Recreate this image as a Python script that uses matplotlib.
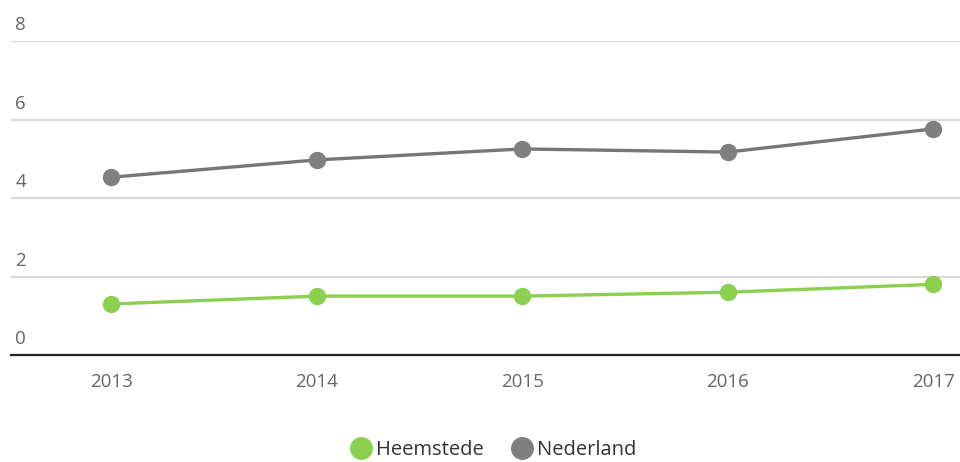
import matplotlib.pyplot as plt
from matplotlib.lines import Line2D
from matplotlib.transforms import ScaledTranslation

# data
years = [2013, 2014, 2015, 2016, 2017]
heemstede = [1.3, 1.5, 1.5, 1.6, 1.8]
nederland = [4.53, 4.97, 5.25, 5.17, 5.76]
y_ticks = [0, 2, 4, 6, 8]

green = '#8cd04f'
grey = '#7f7f7f'

plt.rcParams['font.family'] = ['Open Sans', 'DejaVu Sans']

fig = plt.figure(figsize=(9.6, 4.62), dpi=100)
ax = fig.add_axes([11 / 960, 1 - 355 / 462, 1 - 11 / 960, (355 - 41) / 462])

ax.plot(years, nederland, color='#767676', lw=2.4, marker='o', ms=11.5,
        mfc=grey, mec=grey, zorder=3, clip_on=False)
ax.plot(years, heemstede, color=green, lw=2.4, marker='o', ms=11.5,
        mfc=green, mec=green, zorder=3, clip_on=False)

ax.set_xlim(2012.513, 2017.131)
ax.set_ylim(0, 8)
ax.set_xticks(years)
ax.set_xticklabels([str(y) for y in years])
ax.set_yticks(y_ticks)
ax.set_yticklabels([str(t) for t in y_ticks])

ax.grid(axis='y', color='#d9d9d9', lw=1.6)
ax.set_axisbelow(True)
for side in ['top', 'right', 'left']:
    ax.spines[side].set_visible(False)
ax.spines['bottom'].set_color('#222222')
ax.spines['bottom'].set_linewidth(1.6)
ax.spines['bottom'].set_zorder(4)

ax.tick_params(axis='x', length=0, pad=13, labelsize=13.5, labelcolor='#666666')
ax.tick_params(axis='y', length=0, pad=-3, labelsize=13.5, labelcolor='#666666')
offset = ScaledTranslation(0, 5 / 72, fig.dpi_scale_trans)
for lab in ax.get_yticklabels():
    lab.set_horizontalalignment('left')
    lab.set_verticalalignment('bottom')
    lab.set_transform(lab.get_transform() + offset)

handles = [
    Line2D([], [], ls='none', marker='o', ms=15.5, mfc=green, mec=green),
    Line2D([], [], ls='none', marker='o', ms=15.5, mfc=grey, mec=grey),
]
fig.legend(handles, ['Heemstede', 'Nederland'], loc='center',
           bbox_to_anchor=(493 / 960, 1 - 450 / 462), ncol=2, frameon=False,
           fontsize=14.5, handletextpad=0.15, columnspacing=1.3,
           handlelength=1.2, labelcolor='#333333')

fig.savefig('out.png', dpi=100)
